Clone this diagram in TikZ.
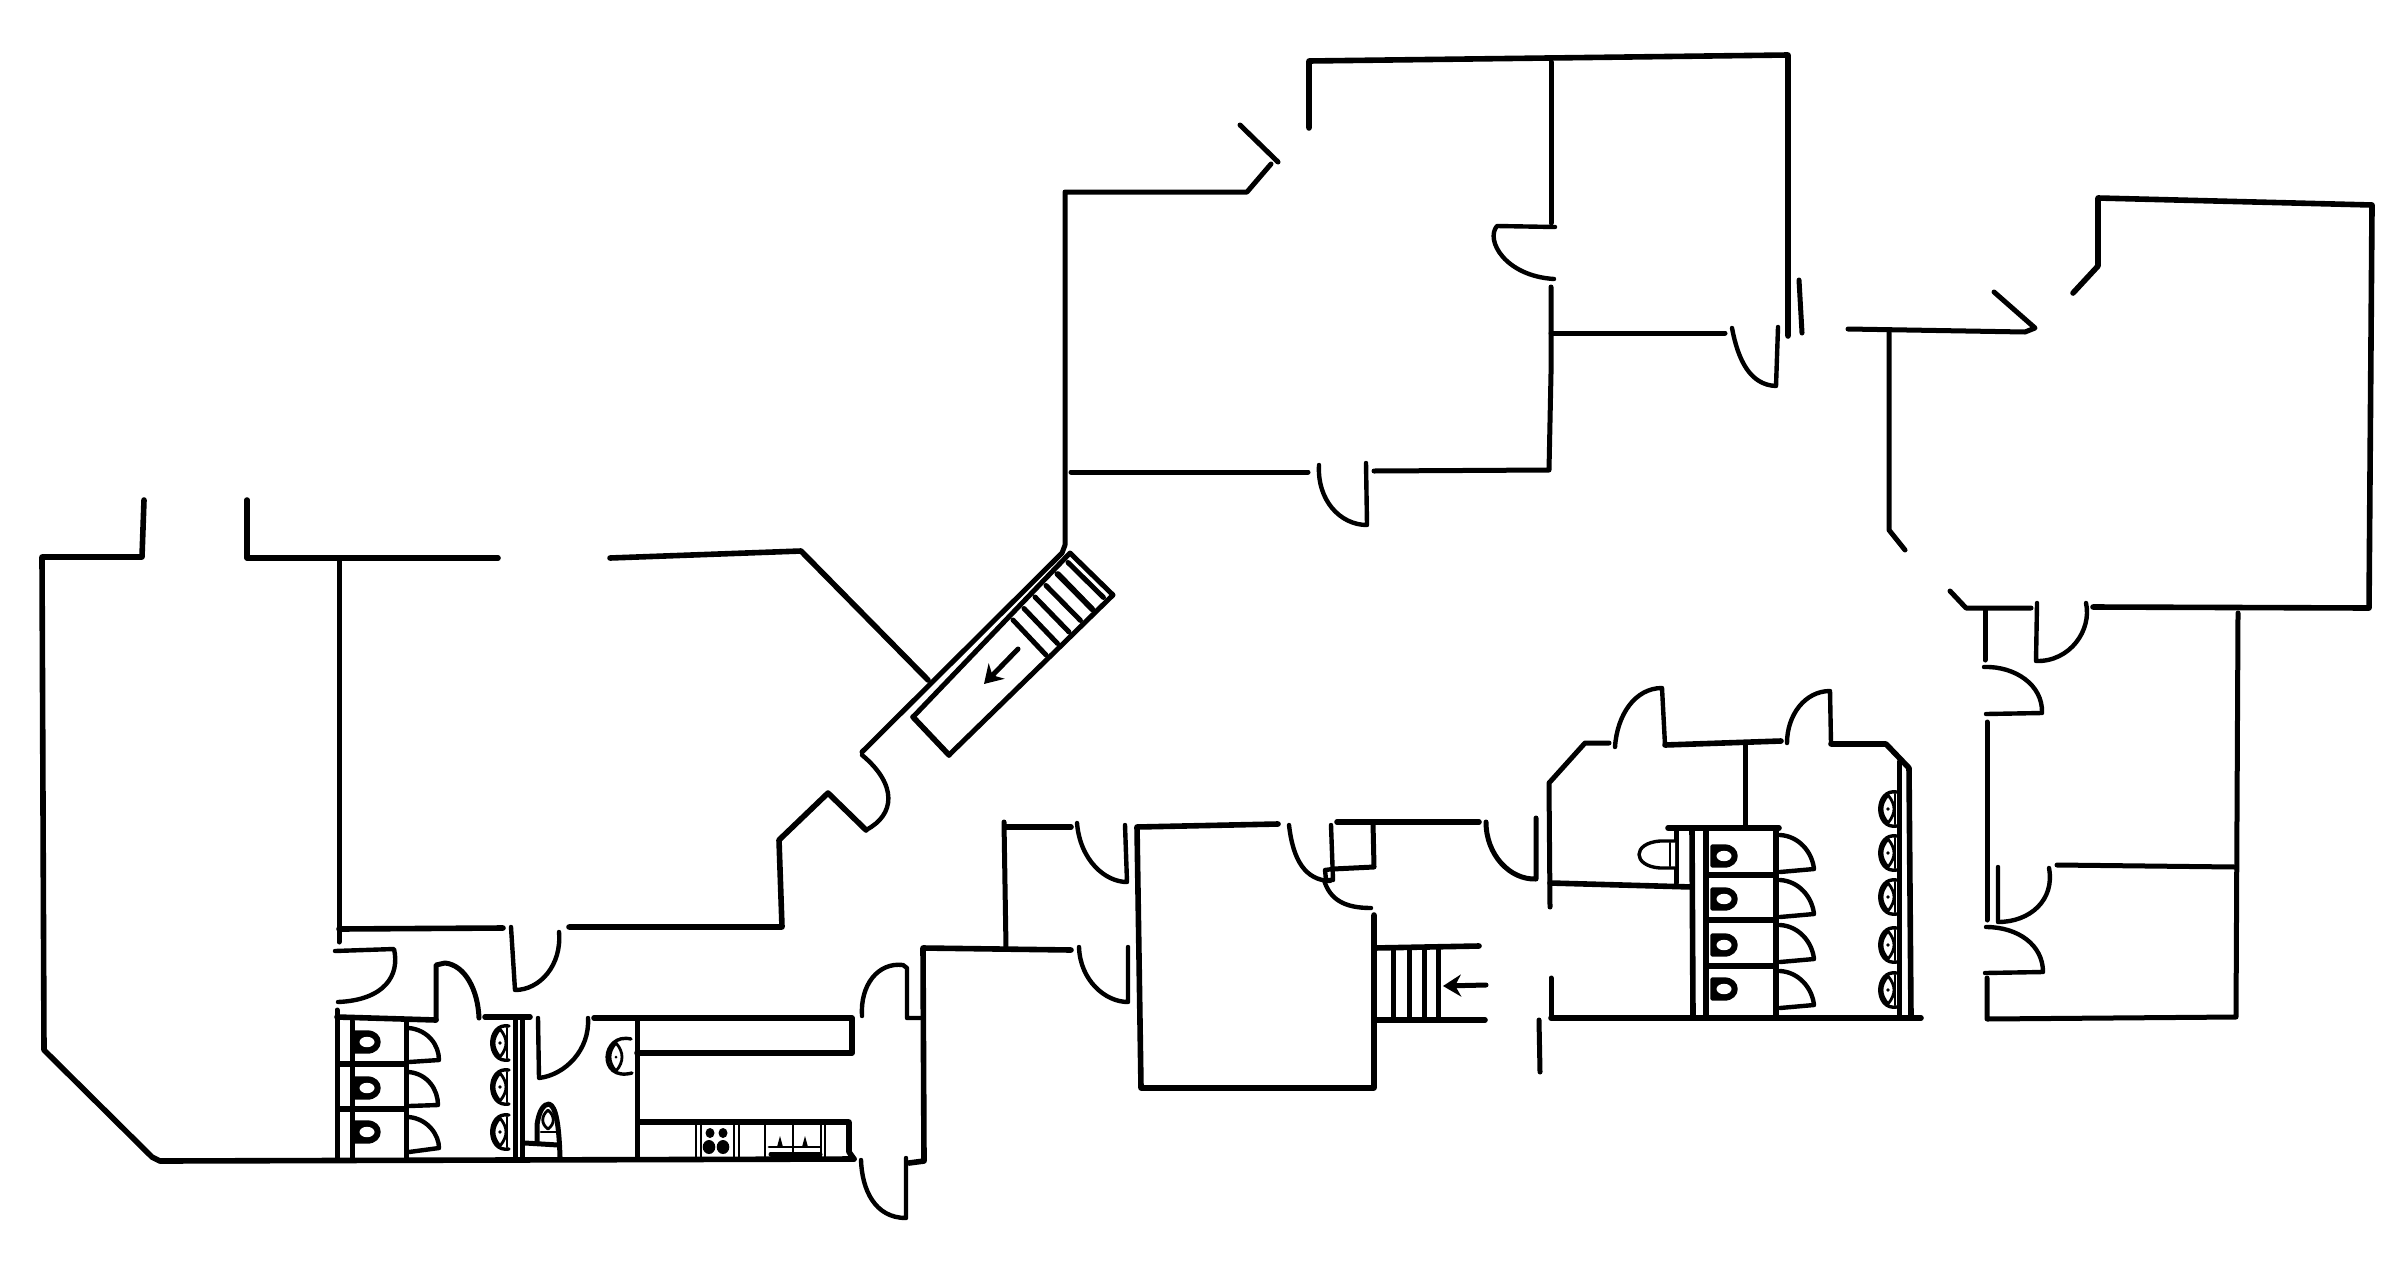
\documentclass[tikz,border=0pt]{standalone}
\usepackage{tikz}
\usetikzlibrary{arrows.meta}

\begin{document}
\begin{tikzpicture}[x=1pt,y=-1pt]
    \tikzstyle{every path}=[line cap=round,line join=round]
    \tikzstyle{wall}=[draw=black,line width=5.6pt]
    \tikzstyle{partition}=[draw=black,line width=5pt]
    \tikzstyle{leaf}=[draw=black,line width=4.4pt]
    \tikzstyle{fixture}=[draw=black,line width=2.8pt]
    \tikzstyle{flow}=[draw=black,line width=5pt,-{Stealth[length=18pt,width=22pt]}]

    \useasboundingbox (0,0) rectangle (2400,1274);

    \newcommand{\stalldoor}[2]{%
      \draw[leaf,shift={(#1,#2)}] (0,0) .. controls (18,1) and (32,16) .. (34,34) -- (0,37) ;}
    \newcommand{\wcbowl}[2]{%
      \draw[fixture,line width=3.4pt,shift={(#1,#2)},fill=black] (-11,-10) -- (1,-10) .. controls (17,-10) and (17,10) .. (1,10) -- (-11,10) -- cycle ;
      \draw[fixture,draw=none,fill=white,shift={(#1,#2)}] (1,0) ellipse (7.5 and 5.2) ;}
    \newcommand{\basin}[2]{%
      \draw[fixture,line width=3.4pt,shift={(#1,#2)}] (9,-17) .. controls (-14,-21) and (-14,21) .. (9,17) ;
      \draw[fixture,shift={(#1,#2)}] (0,-14) .. controls (-8,-4) and (-8,4) .. (0,14) .. controls (8,4) and (8,-4) .. (0,-14) ;
      \draw[fixture,shift={(#1,#2)}] (7,-15) -- (7,15) ;
      \fill[shift={(#1,#2)}] (0,0) circle (1.8) ;}

    \draw[wall] (144,500) -- (142,557) -- (42,557) -- (44,1050) -- (152,1157) -- (160,1161) -- (854,1159) ;
    \draw[wall] (247,500) -- (247,558) -- (498,558) ;
    \draw[partition] (339,560) -- (339,942) ;
    \draw[wall] (339,929) -- (503,928) ;
    \draw[wall] (569,927) -- (782,927) -- (779,840) -- (828,793) -- (866,830) ;
    \draw[leaf] (866,830) .. controls (895,815) and (898,785) .. (862,755) ;
    \draw[wall] (610,558) -- (801,551) -- (928,680) ;
    \draw[partition] (862,752) -- (1062,553) -- (1065,545) -- (1065,192) -- (1247,192) -- (1271,164) ;
    \draw[partition] (1240,125) -- (1278,162) ;

    \draw[partition] (913,717) -- (1070,553) -- (1113,595) -- (949,755) ;
    \draw[wall] (949,755) -- (913,717) ;
    \foreach \i in {0,...,5}{%
      \draw[partition] ({1013+\i*11},{620-\i*11.5}) -- ({1046+\i*11.5},{655-\i*11.5}) ;}
    \draw[wall] (1058,574) -- (1093,610) ;
    \draw[flow] (1018,649) -- (984,684) ;

    \draw[wall] (1309,128) -- (1309,61) -- (1788,55) -- (1788,336) ;
    \draw[partition] (1551,62) -- (1551,223) ;
    \draw[leaf] (1555,227) -- (1497,226) .. controls (1485,240) and (1505,276) .. (1554,279) ;
    \draw[partition] (1551,287) -- (1551,373) -- (1549,470) -- (1374,471) ;
    \draw[partition] (1551,333) -- (1725,333) ;
    \draw[leaf] (1732,328) .. controls (1738,360) and (1750,385) .. (1776,386) -- (1778,327) ;
    \draw[partition] (1799,280) -- (1802,333) ;
    \draw[leaf] (1366,463) -- (1367,525) .. controls (1340,525) and (1317,500) .. (1319,465) ;
    \draw[partition] (1308,472) -- (1071,472) ;

    \draw[partition] (1848,329) -- (2025,332) -- (2035,328) -- (1994,292) ;
    \draw[partition] (1889,332) -- (1889,530) -- (1905,550) ;
    \draw[wall] (2073,293) -- (2098,266) -- (2098,198) -- (2372,205) -- (2369,608) -- (2093,607) ;
    \draw[leaf] (2086,603) .. controls (2092,630) and (2070,662) .. (2036,661) -- (2037,603) ;
    \draw[partition] (1950,591) -- (1966,608) -- (2031,608) ;
    \draw[partition] (1985,610) -- (1985,660) ;
    \draw[leaf] (1984,667) .. controls (2015,666) and (2043,685) .. (2042,713) -- (1986,714) ;
    \draw[partition] (1987,722) -- (1987,920) ;
    \draw[leaf] (2049,868) .. controls (2055,900) and (2030,922) .. (1998,922) -- (1998,867) ;
    \draw[leaf] (1986,927) .. controls (2018,927) and (2043,945) .. (2043,972) -- (1985,973) ;
    \draw[partition] (1987,978) -- (1987,1019) -- (2236,1017) -- (2238,613) ;
    \draw[partition] (2057,865) -- (2235,867) ;

    \draw[partition] (1536,818) -- (1536,879) .. controls (1510,880) and (1486,855) .. (1486,822) ;
    \draw[wall] (1337,822) -- (1479,822) ;
    \draw[partition] (1373,823) -- (1374,867) -- (1333,869) ;
    \draw[leaf] (1289,825) .. controls (1293,860) and (1305,880) .. (1330,881) ;
    \draw[leaf] (1331,825) -- (1333,880) -- (1326,880) -- (1325,870) -- (1333,869) ;
    \draw[leaf] (1324,880) .. controls (1330,900) and (1345,908) .. (1371,908) ;

    \draw[partition] (1550,907) -- (1549,783) -- (1585,743) -- (1609,743) ;
    \draw[leaf] (1615,747) .. controls (1617,715) and (1635,688) .. (1662,688) -- (1665,745) ;
    \draw[wall] (1665,745) -- (1781,741) ;
    \draw[leaf] (1787,743) .. controls (1787,715) and (1805,691) .. (1830,691) -- (1831,744) ;
    \draw[wall] (1831,744) -- (1886,744) -- (1909,768) -- (1911,1018) ;
    \draw[partition] (1899,762) -- (1899,1017) ;
    \draw[partition] (1745,743) -- (1745,827) ;
    \draw[wall] (1668,828) -- (1779,828) ;
    \draw[partition] (1676,830) -- (1676,883) ;
    \draw[wall] (1692,830) -- (1693,1017) ;
    \draw[wall] (1706,830) -- (1706,1017) ;
    \draw[wall] (1776,830) -- (1776,1017) ;
    \draw[wall] (1550,883) -- (1692,887) ;
    \foreach \ypos in {875,920,966}{%
      \draw[wall] (1706,\ypos) -- (1776,\ypos) ;}
    \foreach \ypos in {835,880,925,971}{%
      \stalldoor{1780}{\ypos}}
    \draw[wall] (1551,1018) -- (1921,1018) ;
    \draw[partition] (1551,978) -- (1551,1018) ;
    \draw[partition] (1539,1020) -- (1540,1072) ;
    \foreach \ypos in {856,899,945,989}{%
      \wcbowl{1723}{\ypos}}
    \draw[fixture,line width=3.4pt,fill=white] (1675,841) -- (1660,841) .. controls (1632,843) and (1632,866) .. (1660,868) -- (1675,868) ;
    \draw[fixture] (1670,843) -- (1670,866) ;
    \foreach \ypos in {809,853,897,945,990}{%
      \basin{1888}{\ypos}}

    \draw[partition] (1004,822) -- (1006,948) ;
    \draw[wall] (1006,827) -- (1071,827) ;
    \draw[leaf] (1077,823) .. controls (1080,860) and (1105,882) .. (1127,882) -- (1125,825) ;
    \draw[wall] (1278,824) -- (1137,827) -- (1141,1088) -- (1374,1088) -- (1374,915) ;
    \draw[wall] (1071,950) -- (923,948) -- (924,1161) -- (909,1163) ;
    \draw[leaf] (1079,947) .. controls (1080,980) and (1105,1002) .. (1128,1002) -- (1128,947) ;
    \draw[leaf] (862,1016) .. controls (860,985) and (878,962) .. (903,965) -- (907,968) -- (907,1018) -- (922,1018) ;
    \draw[wall] (1374,948) -- (1479,946) ;
    \draw[wall] (1374,1020) -- (1485,1020) ;
    \foreach \xpos in {1393,1409,1424,1438}{%
      \draw[partition] (\xpos,948) -- (\xpos,1020) ;}
    \draw[flow] (1486,985) -- (1443,986) ;

    \draw[leaf] (335,951) -- (394,949) .. controls (400,975) and (385,1000) .. (338,1002) ;
    \draw[partition] (337,1010) -- (337,1158) ;
    \draw[wall] (337,1017) -- (436,1020) ;
    \draw[partition] (436,1020) -- (436,965) -- (445,963) .. controls (465,965) and (478,990) .. (479,1018) ;
    \draw[wall] (485,1017) -- (530,1017) ;
    \draw[leaf] (511,927) -- (515,990) .. controls (540,990) and (562,965) .. (559,932) ;
    \draw[partition] (352,1021) -- (352,1158) ;
    \draw[partition] (406,1021) -- (406,1158) ;
    \foreach \ypos in {1064,1109}{%
      \draw[wall] (339,\ypos) -- (405,\ypos) ;}
    \draw[leaf] (409,1028) .. controls (428,1030) and (439,1045) .. (439,1060) -- (409,1062) ;
    \draw[leaf] (409,1072) .. controls (428,1074) and (438,1090) .. (438,1105) -- (409,1106) ;
    \draw[leaf] (409,1117) .. controls (428,1119) and (439,1135) .. (439,1148) -- (409,1152) ;
    \foreach \ypos in {1042,1088,1132}{%
      \wcbowl{366}{\ypos}}
    \foreach \ypos in {1043,1087,1132}{%
      \basin{500}{\ypos}}
    \draw[partition] (515,1020) -- (515,1158) ;
    \draw[partition] (522,1020) -- (522,1158) ;
    \draw[leaf] (538,1018) -- (539,1078) .. controls (565,1075) and (590,1050) .. (588,1018) ;
    \draw[wall] (594,1018) -- (852,1018) -- (852,1053) -- (637,1053) ;
    \draw[partition] (637,1020) -- (637,1158) ;
    \draw[wall] (638,1122) -- (849,1122) -- (849,1152) -- (854,1159) ;
    \draw[fixture,line width=3.4pt] (631,1039) .. controls (601,1032) and (597,1082) .. (632,1073) ;
    \draw[fixture] (616,1043) .. controls (608,1052) and (608,1062) .. (616,1071) .. controls (624,1062) and (624,1052) .. (616,1043) ;
    \fill (616,1057) circle (1.5) ;
    \draw[fixture] (548,1110) .. controls (541,1116) and (541,1124) .. (548,1129) .. controls (555,1124) and (555,1116) .. (548,1110) ;
    \draw[partition] (525,1143) -- (558,1145) ;
    \draw[partition] (537,1143) -- (537,1125) .. controls (539,1110) and (544,1104) .. (549,1104) .. controls (556,1106) and (559,1125) .. (560,1157) ;
    \draw[fixture] (541,1132) -- (556,1132) ;
    \foreach \xpos in {696,701,734,739,765,793,821,825}{%
      \draw[fixture] (\xpos,1124) -- (\xpos,1158) ;}
    \foreach \xpos/\ypos/\rad in {710/1133/5,723/1133/5,709/1147/7,723/1147/7}{%
      \fill (\xpos,\ypos) ellipse ({\rad*0.9} and \rad) ;}
    \draw[fixture] (769,1147) -- (820,1147) ;
    \draw[partition] (771,1154) -- (820,1154) ;
    \foreach \xpos in {780,805}{%
      \fill (\xpos-3,1147) -- (\xpos,1136) -- (\xpos+3,1147) -- cycle ;}
    \draw[leaf] (861,1160) .. controls (862,1190) and (875,1218) .. (906,1218) -- (906,1158) ;
\end{tikzpicture}
\end{document}
